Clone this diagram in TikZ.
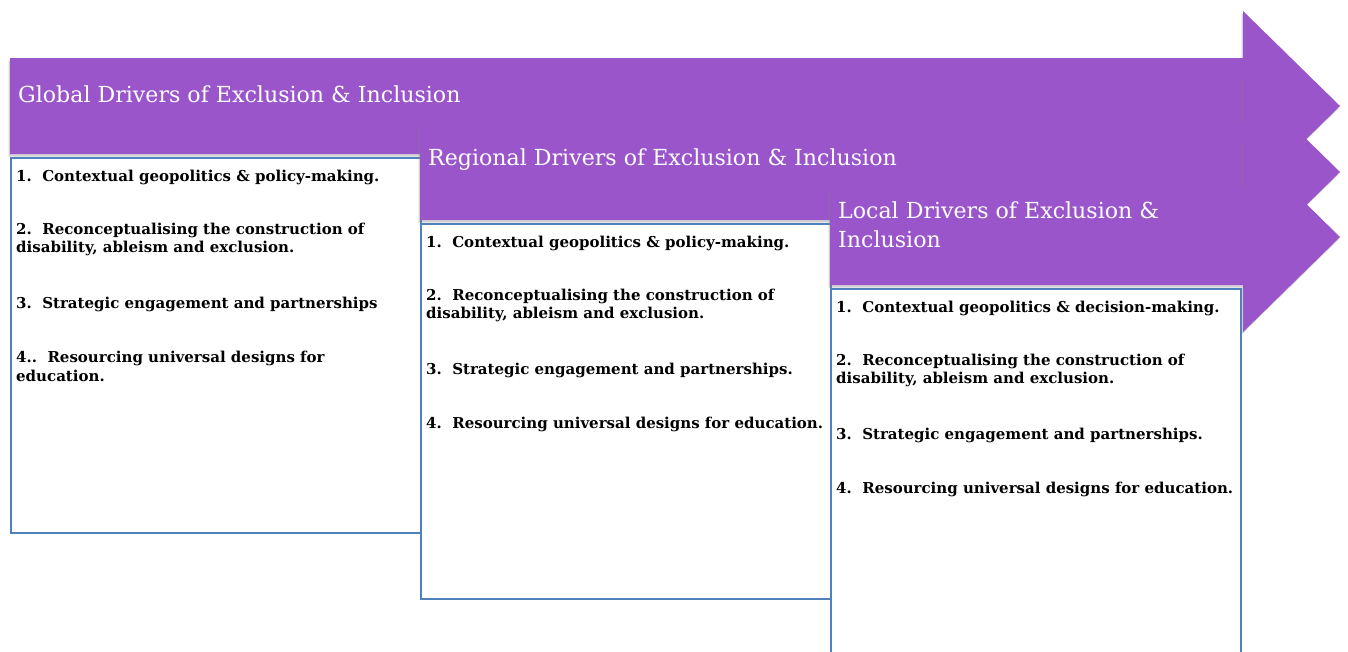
\documentclass[tikz,border=0pt]{standalone}
\usepackage{fontspec}
\setmainfont{DejaVu Serif}
\usetikzlibrary{positioning,shadows}
\definecolor{drvPurple}{RGB}{154,85,203}
\definecolor{drvBlue}{RGB}{79,129,189}

\begin{document}
\begin{tikzpicture}[x=1pt,y=-1pt,
  band/.style={fill=drvPurple, drop shadow={shadow xshift=-1.5pt, shadow yshift=-2.5pt, opacity=0.35}},
  headtext/.style={text=white, font=\fontsize{22.1}{29}\selectfont, align=left, anchor=west, inner sep=0pt},
  listbox/.style={draw=drvBlue, line width=1.5pt, fill=white, anchor=north west,
    minimum width=410pt, minimum height=375pt, inner sep=0pt},
  listtext/.style={font=\bfseries\fontsize{15}{18.5}\selectfont, align=left, inner sep=0pt}]
  \clip (0,0) rectangle (1348,651);

  % Three overlapping arrow bands, each with its box below
  \foreach \px/\py/\name/\head in {10/58/glob/{Global Drivers of Exclusion \& Inclusion},
      420/124/reg/{Regional Drivers of Exclusion \& Inclusion},
      830/189/loc/{Local Drivers of Exclusion \&\\Inclusion}} {
    \fill[band] (\px,\py) -- (1243,\py) -- (1243,\py-47) -- (1340,\py+48)
      -- (1243,\py+143) -- (1243,\py+96) -- (\px,\py+96) -- cycle;
    \node[headtext] (\name-head) at (\px+8,\py+36) {\head};
    \node[listbox] (\name-box) at (\px,\py+99) {};
  }

  % Lists
  \node[listtext, below right=12.5pt and 6pt of glob-box.north west] (glob-list) {
    1.\ \ Contextual geopolitics \& policy-making.\\[34.5pt]
    2.\ \ Reconceptualising the construction of\\
    disability, ableism and exclusion.\\[37pt]
    3.\ \ Strategic engagement and partnerships\\[36pt]
    4..\ \ Resourcing universal designs for\\
    education.};
  \node[listtext, below right=12.5pt and 6pt of reg-box.north west] (reg-list) {
    1.\ \ Contextual geopolitics \& policy-making.\\[34.5pt]
    2.\ \ Reconceptualising the construction of\\
    disability, ableism and exclusion.\\[37pt]
    3.\ \ Strategic engagement and partnerships.\\[36pt]
    4.\ \ Resourcing universal designs for education.};
  \node[listtext, below right=12.5pt and 6pt of loc-box.north west] (loc-list) {
    1.\ \ Contextual geopolitics \& decision-making.\\[34.5pt]
    2.\ \ Reconceptualising the construction of\\
    disability, ableism and exclusion.\\[37pt]
    3.\ \ Strategic engagement and partnerships.\\[36pt]
    4.\ \ Resourcing universal designs for education.};
\end{tikzpicture}
\end{document}
